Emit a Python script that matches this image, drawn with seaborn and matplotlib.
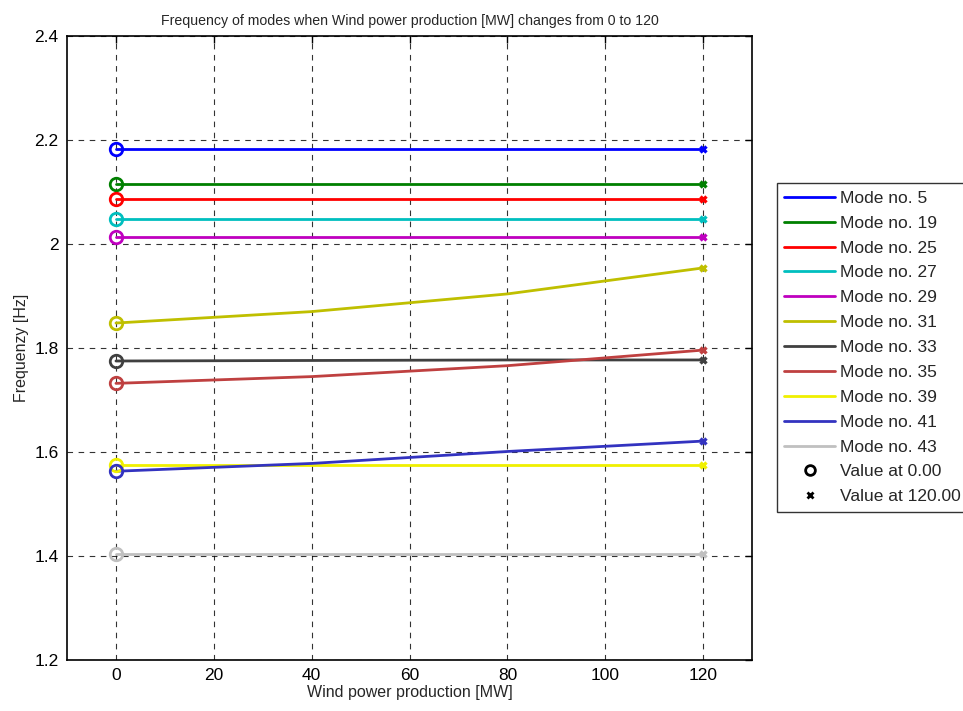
import matplotlib
matplotlib.use("Agg")
import matplotlib.pyplot as plt
import seaborn as sns
import pandas as pd
from matplotlib.lines import Line2D

wind = [0, 40, 80, 120]
modes = ["Mode no. 5", "Mode no. 19", "Mode no. 25", "Mode no. 27", "Mode no. 29",
         "Mode no. 31", "Mode no. 33", "Mode no. 35", "Mode no. 39", "Mode no. 41",
         "Mode no. 43"]
freq_5 = [2.183, 2.183, 2.183, 2.183]
freq_19 = [2.115, 2.115, 2.115, 2.115]
freq_25 = [2.087, 2.087, 2.087, 2.087]
freq_27 = [2.048, 2.048, 2.048, 2.048]
freq_29 = [2.013, 2.013, 2.013, 2.013]
freq_31 = [1.848, 1.870, 1.904, 1.954]
freq_33 = [1.775, 1.776, 1.777, 1.777]
freq_35 = [1.732, 1.745, 1.766, 1.796]
freq_39 = [1.575, 1.575, 1.575, 1.575]
freq_41 = [1.563, 1.578, 1.601, 1.621]
freq_43 = [1.403, 1.403, 1.403, 1.403]
all_freq = [freq_5, freq_19, freq_25, freq_27, freq_29, freq_31, freq_33,
            freq_35, freq_39, freq_41, freq_43]
colors = ["#0000ff", "#008000", "#ff0000", "#00bfbf", "#bf00bf", "#bfbf00",
          "#404040", "#bf4040", "#f0f000", "#3333c0", "#c0c0c0"]
xticks = [0, 20, 40, 60, 80, 100, 120]
yticks = [1.2, 1.4, 1.6, 1.8, 2.0, 2.2, 2.4]
ytick_labels = ["1.2", "1.4", "1.6", "1.8", "2", "2.2", "2.4"]

rows = []
for m, f in zip(modes, all_freq):
    for x, y in zip(wind, f):
        rows.append({"wind": x, "freq": y, "mode": m})
df = pd.DataFrame(rows)

sns.set_style("white")
plt.rcParams["font.family"] = ["Liberation Sans", "DejaVu Sans"]

fig = plt.figure(figsize=(9.63, 7.11), dpi=100)
ax = fig.add_axes([0.0696, 0.0717, 0.7114, 0.8777])

sns.lineplot(data=df, x="wind", y="freq", hue="mode", hue_order=modes,
             palette=colors, linewidth=2, ax=ax, legend=False, zorder=3)

start = df[df["wind"] == wind[0]]
end = df[df["wind"] == wind[-1]]
for m, c in zip(modes, colors):
    s = start[start["mode"] == m]
    e = end[end["mode"] == m]
    ax.plot(s["wind"], s["freq"], marker="o", linestyle="none", markersize=9,
            markerfacecolor="none", markeredgecolor=c, markeredgewidth=2, zorder=4)
    ax.plot(e["wind"], e["freq"], marker="x", linestyle="none", markersize=5,
            markeredgecolor=c, markeredgewidth=2.4, zorder=4)

ax.set_xlim(-10, 130)
ax.set_ylim(1.2, 2.4)
ax.set_xticks(xticks)
ax.set_yticks(yticks)
ax.set_yticklabels(ytick_labels)
ax.grid(True, color="black", linestyle=(0, (5, 5)), linewidth=0.8, alpha=0.8)
ax.tick_params(direction="in", top=True, right=True, length=5, width=1,
               labelsize=12.5, colors="black", pad=6)
for sp in ax.spines.values():
    sp.set_color("black")
    sp.set_linewidth(1.2)
    sp.set_visible(True)

ax.set_xlabel("Wind power production [MW]", fontsize=11.5, labelpad=1)
ax.set_ylabel("Frequenzy [Hz]", fontsize=11.5, labelpad=4)
ax.set_title("Frequency of modes when Wind power production [MW] changes from 0 to 120",
             fontsize=10.2, pad=8)

handles = [Line2D([0], [0], color=c, linewidth=2) for c in colors]
handles.append(Line2D([0], [0], marker="o", linestyle="none", markersize=7,
                      markerfacecolor="none", markeredgecolor="black", markeredgewidth=2))
handles.append(Line2D([0], [0], marker="x", linestyle="none", markersize=5,
                      markeredgecolor="black", markeredgewidth=2))
labels = modes + ["Value at 0.00", "Value at 120.00"]
leg = fig.legend(handles, labels, loc="upper left", bbox_to_anchor=(0.7975, 0.755),
                 frameon=True, fontsize=12.5, handlelength=2.9, handletextpad=0.3,
                 labelspacing=0.56, borderpad=0.45, fancybox=False, edgecolor="black")
leg.get_frame().set_linewidth(1.0)

fig.savefig("out.png", dpi=100)
